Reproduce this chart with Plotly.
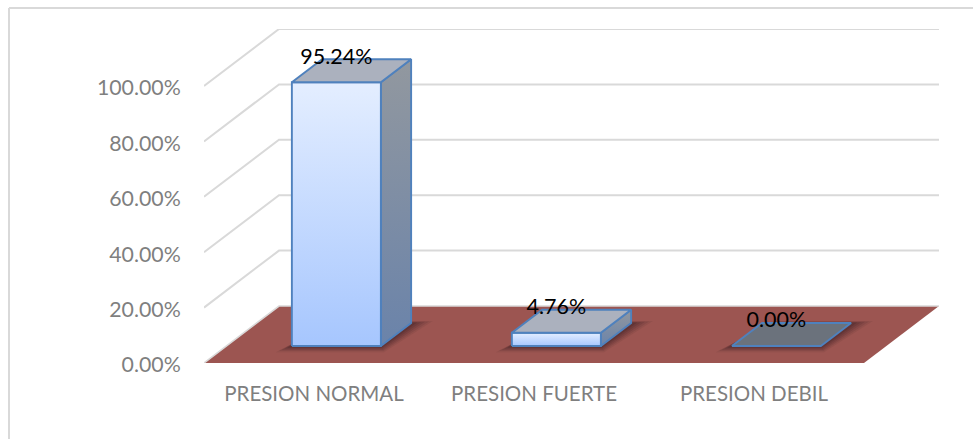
import plotly.graph_objects as go

categories = ["PRESION NORMAL", "PRESION FUERTE", "PRESION DEBIL"]
values = [0.9524, 0.0476, 0.0]
y_ticks = [0, 0.2, 0.4, 0.6, 0.8, 1.0]

W, H = 973, 439
L, R, T, B = 204, 939, 29, 363          # plot box in page pixels
UNIT_X = 220.0                          # pixels per category
UNIT_Y = 277.0                          # pixels per 100 %
DEPTH_X = 75 / UNIT_X                   # oblique offset of the floor depth
DEPTH_Y = 57 / UNIT_Y
BAR_W = 89 / UNIT_X
D0, D1 = 17 / 57, 40 / 57               # bar's depth span (fractions of floor depth)


def P(x, y, d=0.0):
    return x + DEPTH_X * d, y + DEPTH_Y * d


def poly(points, **kw):
    xs = [p[0] for p in points] + [points[0][0]]
    ys = [p[1] for p in points] + [points[0][1]]
    return go.Scatter(x=xs, y=ys, mode="lines", fill="toself", hoverinfo="skip",
                      showlegend=False, **kw)


NOLINE = dict(width=0, color="rgba(0,0,0,0)")
EDGE = dict(width=1.9, color="#4F81BD")
GRID = "#D9D9D9"
traces = []

# walls: gridlines on the left and back walls
gx, gy = [], []
for t in y_ticks[1:]:
    for p in (P(0, t, 0), P(0, t, 1), P(3, t, 1), (None, None)):
        gx.append(p[0]); gy.append(p[1])
traces.append(go.Scatter(x=gx, y=gy, mode="lines", line=dict(color=GRID, width=2),
                         hoverinfo="skip", showlegend=False))

# floor
traces.append(poly([P(0, 0, 0), P(3, 0, 0), P(3, 0, 1), P(0, 0, 1)],
                   fillcolor="#9C5551", line=NOLINE))
fx, fy = zip(P(0, 0, 0), P(0, 0, 1), P(3, 0, 1))
traces.append(go.Scatter(x=fx, y=fy, mode="lines", line=dict(color=GRID, width=1.6),
                         hoverinfo="skip", showlegend=False))

for i, v in enumerate(values):
    a, b = i + 0.5 - BAR_W / 2, i + 0.5 + BAR_W / 2

    # soft contact shadow on the floor
    for g, alpha in ((0.055, 0.08), (0.045, 0.10), (0.035, 0.12), (0.025, 0.14), (0.015, 0.18)):
        traces.append(poly([P(a - g, -g * 0.2, D0 - g), P(b + g * 0.6, -g * 0.2, D0 - g),
                            P(b + g * 1.6, 0, D1 + g * 0.6), P(a + g, 0, D1 + g * 0.6)],
                           fillcolor=f"rgba(40,20,25,{alpha})", line=NOLINE))

    if v > 0:
        # right side face
        traces.append(poly([P(b, 0, D0), P(b, 0, D1), P(b, v, D1), P(b, v, D0)],
                           line=EDGE,
                           fillgradient=dict(type="vertical",
                                             colorscale=[[0, "#6A83AA"], [1, "#92989F"]])))
        # front face
        traces.append(poly([P(a, 0, D0), P(b, 0, D0), P(b, v, D0), P(a, v, D0)],
                           line=EDGE,
                           fillgradient=dict(type="vertical",
                                             colorscale=[[0, "#A6C6FE"], [1, "#E4EEFF"]])))
        top_color = "#ABB1BE"
    else:
        top_color = "#6B727C"
    # top face
    traces.append(poly([P(a, v, D0), P(b, v, D0), P(b, v, D1), P(a, v, D1)],
                       fillcolor=top_color, line=EDGE))

# data labels
traces.append(go.Scatter(
    x=[i + 0.5 + DEPTH_X * D0 for i in range(3)],
    y=[v + 41 / UNIT_Y for v in values],
    mode="text", text=[f"{v:.2%}" for v in values], textposition="middle center",
    textfont=dict(family="Lato", size=21.5, color="#000000"),
    hoverinfo="skip", showlegend=False))

fig = go.Figure(traces)
fig.update_layout(
    width=W, height=H, autosize=False,
    margin=dict(l=L, r=W - R, t=T, b=H - B, pad=0),
    paper_bgcolor="white", plot_bgcolor="white",
    showlegend=False,
    font=dict(family="Lato", size=20.5, color="#7F7F7F"),
    xaxis=dict(range=[0, (R - L) / UNIT_X], tickvals=[0.5, 1.5, 2.5], ticktext=categories,
               showgrid=False, zeroline=False, showline=False,
               ticks="outside", ticklen=12, tickcolor="rgba(0,0,0,0)"),
    yaxis=dict(range=[0, (B - T) / UNIT_Y], tickvals=y_ticks, tickformat=".2%",
               tickfont=dict(size=21.3), ticklabelshift=2,
               showgrid=False, zeroline=False, showline=False,
               ticks="outside", ticklen=18, tickcolor="rgba(0,0,0,0)"),
    shapes=[
        dict(type="line", xref="paper", yref="paper", layer="below",
             x0=(9 - L) / (R - L), x1=(9 - L) / (R - L),
             y0=(B - 445) / (B - T), y1=(B - 8) / (B - T),
             line=dict(color=GRID, width=2)),
        dict(type="line", xref="paper", yref="paper", layer="below",
             x0=(9 - L) / (R - L), x1=(975 - L) / (R - L),
             y0=(B - 8) / (B - T), y1=(B - 8) / (B - T),
             line=dict(color=GRID, width=2)),
    ],
)
fig.write_html("out.html", config={"displayModeBar": False},
               post_script="document.body.style.margin='0';document.body.style.overflow='hidden';")
